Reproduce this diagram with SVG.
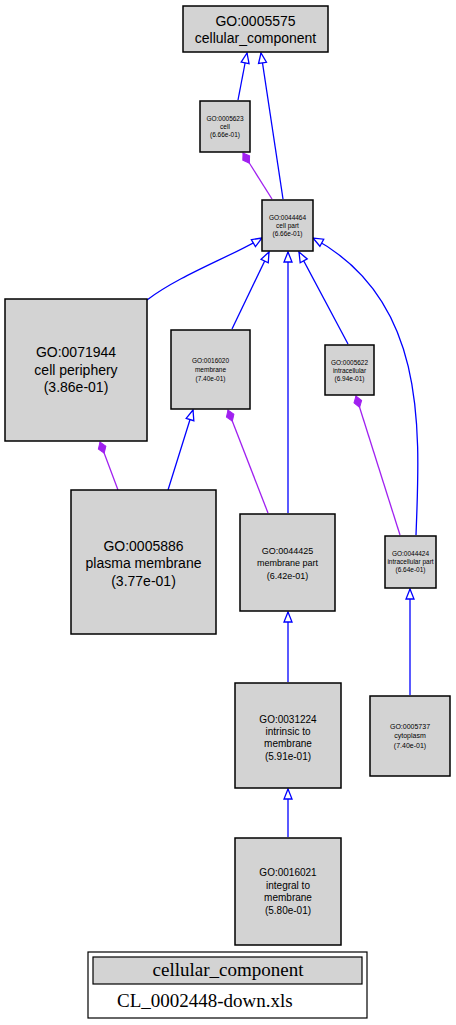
<svg xmlns="http://www.w3.org/2000/svg" width="456" height="1025" viewBox="0 0 456 1025">
<style>
.n{fill:#d3d3d3;stroke:#000;stroke-width:1.5}
.t{font-family:"Liberation Sans",Arial,sans-serif;text-anchor:middle;fill:#000}
.b{fill:none;stroke:#0000ff;stroke-width:1.3;marker-end:url(#arr)}
.p{fill:none;stroke:#a020f0;stroke-width:1.3;marker-end:url(#dia)}
</style>
<defs>
<marker id="arr" markerUnits="userSpaceOnUse" viewBox="-12 -6 13 12" refX="0" refY="0" markerWidth="13" markerHeight="12" orient="auto">
<path d="M0,0 L-10,-4 L-10,4 Z" fill="#fff" stroke="#0000ff" stroke-width="1.3"/>
</marker>
<marker id="dia" markerUnits="userSpaceOnUse" viewBox="-13 -6 14 12" refX="0" refY="0" markerWidth="14" markerHeight="12" orient="auto">
<path d="M0,0 L-6,-4 L-12,0 L-6,4 Z" fill="#a020f0" stroke="#a020f0" stroke-width="1"/>
</marker>
</defs>
<rect width="456" height="1025" fill="#fff"/>
<g id="edges">
<path class="b" d="M238,100 L247,53"/>
<path class="b" d="M283,199 L261,53"/>
<path class="p" d="M272,199 L243,153"/>
<path class="b" d="M147,300 C180,275 230,257 262,238"/>
<path class="b" d="M232,329 L269,252"/>
<path class="b" d="M288,513 L288,252"/>
<path class="b" d="M348,344 L299,252"/>
<path class="b" d="M416,535 C420,430 428,300 313,238"/>
<path class="p" d="M118,490 L100,442"/>
<path class="b" d="M168,490 L193,410"/>
<path class="p" d="M268,513 L228,410"/>
<path class="p" d="M400,535 L356,396"/>
<path class="b" d="M288,682 L288,612"/>
<path class="b" d="M410,695 L410,589"/>
<path class="b" d="M288,837 L288,789"/>
</g>
<g id="GO0005575"><rect class="n" x="183" y="6" width="145" height="46"/>
<text class="t" x="255.5" y="26" font-size="14">GO:0005575</text><text class="t" x="255.5" y="43" font-size="14">cellular_component</text></g>
<g id="GO0005623"><rect class="n" x="200" y="101" width="50" height="51"/>
<text class="t" x="225" y="121" font-size="6.5">GO:0005623</text><text class="t" x="225" y="129" font-size="6.5">cell</text><text class="t" x="225" y="137" font-size="6.5">(6.66e-01)</text></g>
<g id="GO0044464"><rect class="n" x="262" y="200" width="51" height="51"/>
<text class="t" x="287.5" y="220" font-size="6.5">GO:0044464</text><text class="t" x="287.5" y="228" font-size="6.5">cell part</text><text class="t" x="287.5" y="236" font-size="6.5">(6.66e-01)</text></g>
<g id="GO0071944"><rect class="n" x="5" y="299" width="142" height="142"/>
<text class="t" x="76" y="357" font-size="14">GO:0071944</text><text class="t" x="76" y="375" font-size="14">cell periphery</text><text class="t" x="76" y="392" font-size="14">(3.86e-01)</text></g>
<g id="GO0016020"><rect class="n" x="171" y="330" width="79" height="79"/>
<text class="t" x="210.5" y="363" font-size="6.5">GO:0016020</text><text class="t" x="210.5" y="372" font-size="6.5">membrane</text><text class="t" x="210.5" y="381" font-size="6.5">(7.40e-01)</text></g>
<g id="GO0005622"><rect class="n" x="325" y="345" width="49" height="50"/>
<text class="t" x="349.5" y="365" font-size="6.5">GO:0005622</text><text class="t" x="349.5" y="373" font-size="6.5">intracellular</text><text class="t" x="349.5" y="381" font-size="6.5">(6.94e-01)</text></g>
<g id="GO0005886"><rect class="n" x="71" y="490" width="145" height="144"/>
<text class="t" x="143.5" y="551" font-size="14">GO:0005886</text><text class="t" x="143.5" y="568" font-size="14">plasma membrane</text><text class="t" x="143.5" y="586" font-size="14">(3.77e-01)</text></g>
<g id="GO0044425"><rect class="n" x="240" y="514" width="95" height="97"/>
<text class="t" x="287.5" y="554" font-size="9">GO:0044425</text><text class="t" x="287.5" y="566" font-size="9">membrane part</text><text class="t" x="287.5" y="579" font-size="9">(6.42e-01)</text></g>
<g id="GO0044424"><rect class="n" x="385" y="536" width="51" height="52"/>
<text class="t" x="410.5" y="556" font-size="6.5">GO:0044424</text><text class="t" x="410.5" y="564" font-size="6.5">intracellular part</text><text class="t" x="410.5" y="572" font-size="6.5">(6.64e-01)</text></g>
<g id="GO0031224"><rect class="n" x="235" y="683" width="106" height="105"/>
<text class="t" x="288" y="723" font-size="10">GO:0031224</text><text class="t" x="288" y="735" font-size="10">intrinsic to</text><text class="t" x="288" y="747" font-size="10">membrane</text><text class="t" x="288" y="760" font-size="10">(5.91e-01)</text></g>
<g id="GO0005737"><rect class="n" x="370" y="696" width="80" height="80"/>
<text class="t" x="410" y="729" font-size="7">GO:0005737</text><text class="t" x="410" y="738" font-size="7">cytoplasm</text><text class="t" x="410" y="748" font-size="7">(7.40e-01)</text></g>
<g id="GO0016021"><rect class="n" x="235" y="838" width="106" height="107"/>
<text class="t" x="288" y="876" font-size="10">GO:0016021</text><text class="t" x="288" y="889" font-size="10">integral to</text><text class="t" x="288" y="901" font-size="10">membrane</text><text class="t" x="288" y="914" font-size="10">(5.80e-01)</text></g>
<g id="legend">
<rect x="88" y="952" width="279" height="66" fill="#fff" stroke="#000" stroke-width="1.2"/>
<rect x="93" y="957" width="269" height="27" fill="#d3d3d3" stroke="#000" stroke-width="1.2"/>
<text x="228" y="976" font-family="'Liberation Serif','Times New Roman',serif" font-size="19" text-anchor="middle">cellular_component</text>
<text x="117" y="1007" font-family="'Liberation Serif','Times New Roman',serif" font-size="19">CL_0002448-down.xls</text>
</g>
</svg>
